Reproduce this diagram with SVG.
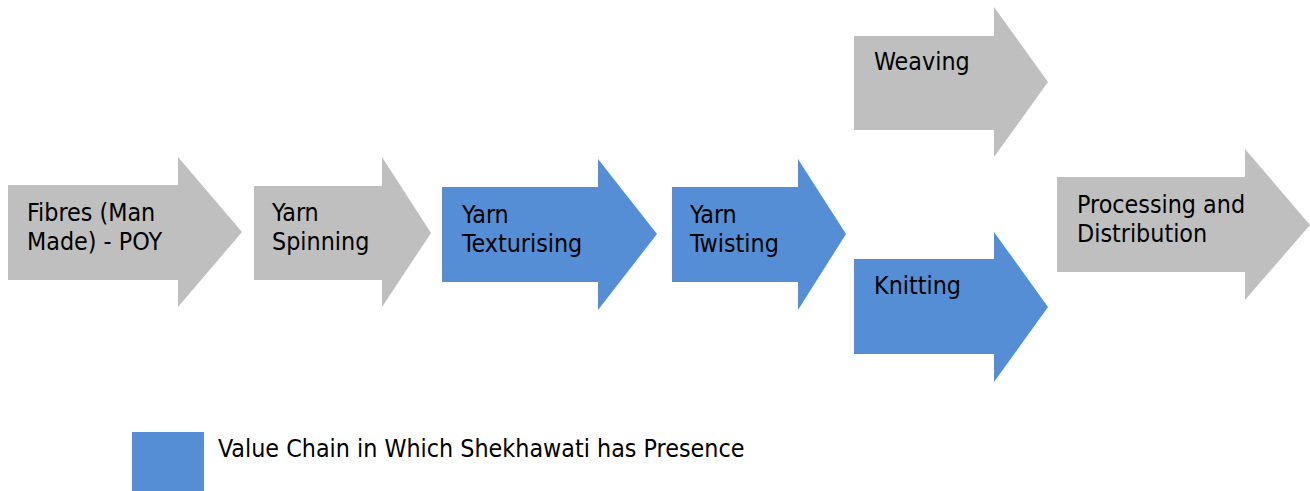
<svg xmlns="http://www.w3.org/2000/svg" width="1310" height="491" viewBox="0 0 1310 491">
<style>
.grey{fill:#BFBFBF}
.blue{fill:#558ED5}
text{font-family:"DejaVu Sans Condensed","DejaVu Sans",sans-serif;font-stretch:condensed;font-size:24.8px;fill:#000}
</style>
<rect width="1310" height="491" fill="#fff"/>
<g id="fibres">
<polygon class="grey" points="8,185 178,185 178,157 242,232 178,307 178,280 8,280"/>
<text x="27" y="221">Fibres (Man</text>
<text x="27" y="250">Made) - POY</text>
</g>
<g id="spinning">
<polygon class="grey" points="254,186 382,186 382,157 431,233 382,307 382,280 254,280"/>
<text x="272" y="221">Yarn</text>
<text x="272" y="250">Spinning</text>
</g>
<g id="texturising">
<polygon class="blue" points="442,187 598,187 598,159 657,234 598,310 598,282 442,282"/>
<text x="462" y="223">Yarn</text>
<text x="462" y="252">Texturising</text>
</g>
<g id="twisting">
<polygon class="blue" points="672,187 798,187 798,159 846,234 798,310 798,282 672,282"/>
<text x="690" y="223">Yarn</text>
<text x="690" y="252">Twisting</text>
</g>
<g id="weaving">
<polygon class="grey" points="854,36 994,36 994,7 1048,82 994,157 994,130 854,130"/>
<text x="874" y="70">Weaving</text>
</g>
<g id="knitting">
<polygon class="blue" points="854,259 994,259 994,232 1048,307 994,382 994,354 854,354"/>
<text x="874" y="294">Knitting</text>
</g>
<g id="processing">
<polygon class="grey" points="1057,177 1245,177 1245,149 1310,225 1245,300 1245,272 1057,272"/>
<text x="1077" y="213">Processing and</text>
<text x="1077" y="242">Distribution</text>
</g>
<g id="connectors"></g>
<g id="legend">
<rect class="blue" x="132" y="432" width="72" height="59"/>
<text x="218" y="457">Value Chain in Which Shekhawati has Presence</text>
</g>
</svg>
